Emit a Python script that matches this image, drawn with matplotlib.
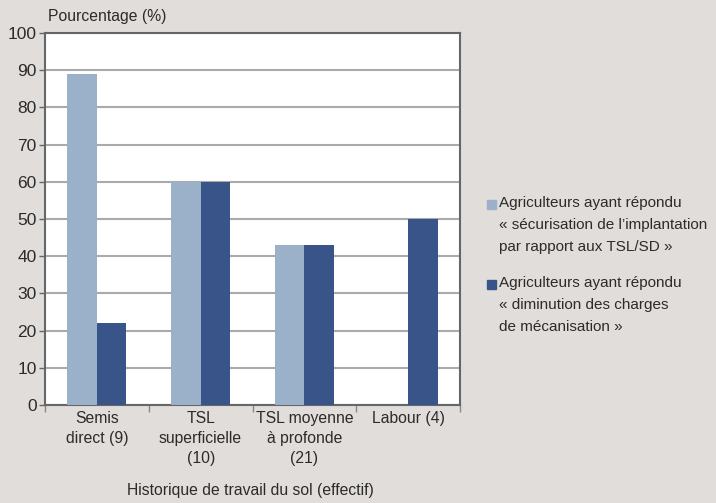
import matplotlib
matplotlib.use('Agg')
import matplotlib.pyplot as plt
from matplotlib.patches import Rectangle
import numpy as np

plt.rcParams['font.family'] = ['Liberation Sans', 'DejaVu Sans']

categories = ['Semis\ndirect (9)', 'TSL\nsuperficielle\n(10)', 'TSL moyenne\nà profonde\n(21)', 'Labour (4)']
securisation = [89, 60, 43, 0]
diminution = [22, 60, 43, 50]
legend_labels = ['Agriculteurs ayant répondu\n« sécurisation de l\u2019implantation\npar rapport aux TSL/SD »',
                 'Agriculteurs ayant répondu\n« diminution des charges\nde mécanisation »']
yticks = [0, 10, 20, 30, 40, 50, 60, 70, 80, 90, 100]

bg = '#e1ddda'
light = '#9bb0c9'
dark = '#395489'
txt = '#2b2b2b'

fig = plt.figure(figsize=(7.16, 5.03), dpi=100, facecolor=bg)
ax = fig.add_axes([45/716, 1-405/503, 415/716, 372/503])
ax.set_facecolor('white')

x = np.arange(len(categories))
w = 0.285
ax.bar(x - w/2, securisation, w, color=light, zorder=3)
ax.bar(x + w/2, diminution, w, color=dark, zorder=3)

ax.set_xlim(-0.5, 3.5)
ax.set_ylim(0, 100)
ax.set_yticks(yticks)
ax.yaxis.grid(True, color='#aaaaaa', lw=1.5, zorder=0)
ax.tick_params(axis='y', length=4, width=1, color='#666666', labelsize=12.5, labelcolor=txt, pad=2)

# category boundaries get the tick marks, centres get the labels
ax.set_xticks(np.arange(-0.5, 4, 1))
ax.set_xticklabels([])
ax.set_xticks(x, minor=True)
ax.set_xticklabels(categories, minor=True)
ax.tick_params(axis='x', which='major', length=5, width=1, color='#888888')
ax.tick_params(axis='x', which='minor', length=0, labelsize=11.3, labelcolor=txt, pad=4)
for lab in ax.get_xticklabels(minor=True):
    lab.set_linespacing(1.45)

for s in ax.spines.values():
    s.set_color('#666666')
    s.set_linewidth(1.5)

fig.text(48/716, 1-17/503, 'Pourcentage (%)', fontsize=11.3, color=txt, va='center', ha='left')
fig.text(250/716, 1-490/503, 'Historique de travail du sol (effectif)', fontsize=11.3, color=txt, va='center', ha='center')

# legend drawn by hand so the square sits on the first line
for lab, col, ytop in zip(legend_labels, [light, dark], [196, 276]):
    fig.text(499/716, 1-ytop/503, lab, fontsize=11, color=txt, va='top', ha='left', linespacing=1.72)
    fig.patches.append(Rectangle((487/716, 1-(ytop+13)/503), 9/716, 9/503,
                                 transform=fig.transFigure, color=col, figure=fig))

fig.savefig('out.png', dpi=100, facecolor=bg)
